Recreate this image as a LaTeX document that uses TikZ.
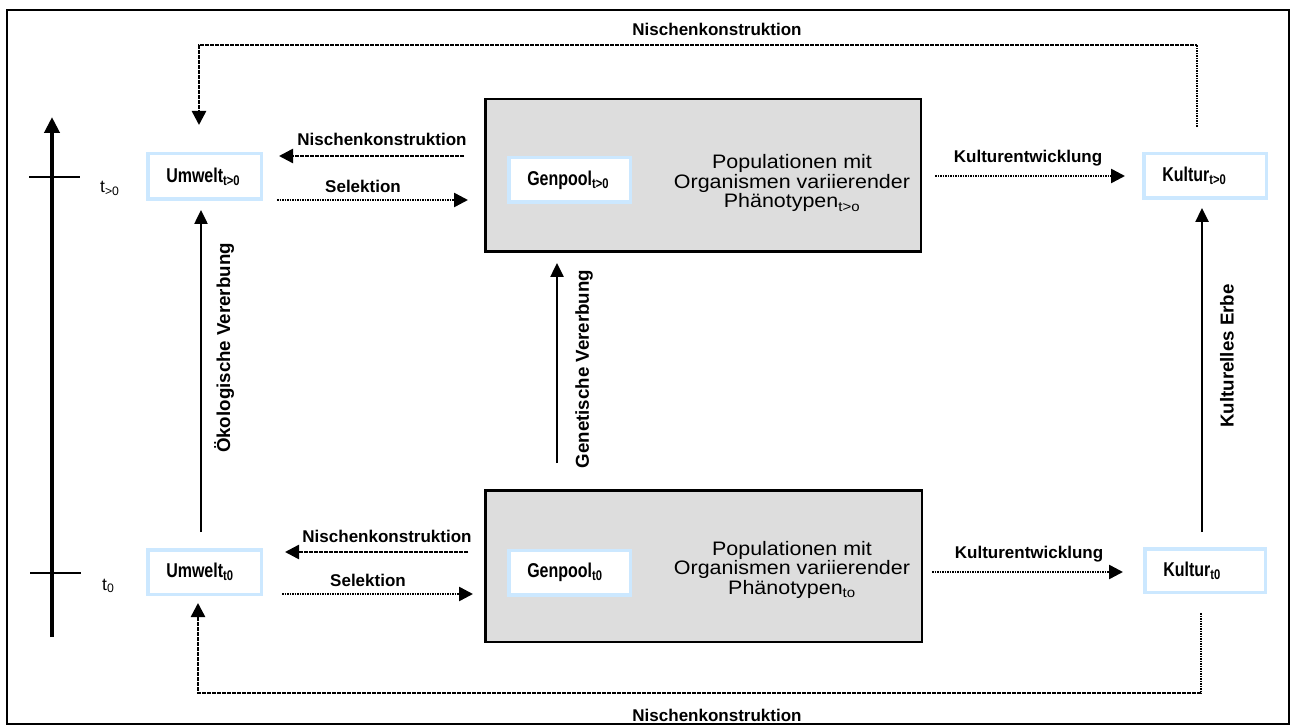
\documentclass[tikz,border=0pt]{standalone}
\usepackage{fontspec}
\setmainfont{Liberation Sans}
\newfontfamily\narrowfont[FakeStretch=0.8]{Liberation Sans}
\newfontfamily\widefont[FakeStretch=1.1]{Liberation Sans}
\usetikzlibrary{arrows.meta}
\definecolor{tagblue}{RGB}{204,232,255}
\definecolor{popgray}{RGB}{221,221,221}
\begin{document}
\begin{tikzpicture}[x=1pt,y=-1pt,
  frame/.style={draw=black,line width=2pt},
  popbox/.style={draw=black,line width=2.5pt,fill=popgray,inner sep=0pt},
  tagbox/.style={draw=tagblue,line width=3.5pt,fill=white,inner ysep=0pt,
    inner xsep=18.5pt,align=left,
    font=\narrowfont\bfseries\fontsize{20}{21}\selectfont},
  poptext/.style={inner sep=0pt,align=center,anchor=base,
    font=\widefont\fontsize{19.5}{19.5}\selectfont},
  lbl/.style={inner sep=0pt,anchor=base,font=\bfseries\fontsize{17}{20}\selectfont},
  vlbl/.style={inner sep=0pt,rotate=90,font=\bfseries\fontsize{18.7}{20}\selectfont},
  timelbl/.style={inner sep=0pt,anchor=base west,font=\fontsize{17.5}{20}\selectfont},
  flow/.style={line width=2.5pt,dash pattern=on 1.6pt off 0.9pt,
    -{Triangle[length=14pt,width=14pt]}},
  inherit/.style={line width=2.5pt,-{Triangle[length=14pt,width=13pt]}},
  axis/.style={line width=4pt,-{Triangle[length=16pt,width=15pt]}},
  tick/.style={line width=1.5pt}]
\useasboundingbox (0,0) rectangle (1295,727);

% outer frame
\draw[frame] (7,10) rectangle (1289,724);

% population boxes
\node[popbox,minimum width=435.5pt,minimum height=152.5pt] (popU) at (703,175.5) {};
\node[popbox,minimum width=436.5pt,minimum height=151.5pt] (popL) at (703.5,566) {};
\node[poptext] (popTxtU) at (792,208)
  {Populationen mit\\Organismen variierender\\Phänotypen\textsubscript{t>o}};
\node[poptext] (popTxtL) at (792,594)
  {Populationen mit\\Organismen variierender\\Phänotypen\textsubscript{to}};

% labelled boxes
\node[tagbox,text width=76.5pt,minimum height=45.5pt] (umU) at (204.5,176.5) {Umwelt\textsubscript{t>0}};
\node[tagbox,text width=76.5pt,minimum height=44.5pt] (umL) at (204.5,572) {Umwelt\textsubscript{t0}};
\node[tagbox,text width=84.5pt,minimum height=44.5pt] (gpU) at (569.5,180) {Genpool\textsubscript{t>0}};
\node[tagbox,text width=84.5pt,minimum height=44.5pt] (gpL) at (569.5,572.5) {Genpool\textsubscript{t0}};
\node[tagbox,text width=85.5pt,minimum height=44.5pt] (kuU) at (1205,176) {Kultur\textsubscript{t>0}};
\node[tagbox,text width=83.5pt,minimum height=43.5pt] (kuL) at (1205,570.5) {Kultur\textsubscript{t0}};

% time axis
\coordinate (axB) at (52,637);
\coordinate (axT) at (52,117);
\draw[axis] (axB) -- (axT);
\coordinate (tkUa) at (29,177); \coordinate (tkUb) at (80,177);
\coordinate (tkLa) at (30,573); \coordinate (tkLb) at (81,573);
\draw[tick] (tkUa) -- (tkUb);
\draw[tick] (tkLa) -- (tkLb);
\node[timelbl] (tU) at (100,193) {t\textsubscript{>0}};
\node[timelbl] (tL) at (102,590) {t\textsubscript{0}};

% niche construction round the outside
\coordinate (ncTs) at (1197,127);
\coordinate (ncTe) at (199,125);
\draw[flow] (ncTs) |- (599,45) -| (ncTe);
\node[lbl] (ncTl) at (717,36) {Nischenkonstruktion};

\coordinate (ncBs) at (1201,613);
\coordinate (ncBe) at (198,603);
\draw[flow] (ncBs) |- (599,693) -| (ncBe);
\node[lbl] (ncBl) at (717,721) {Nischenkonstruktion};

% exchanges between environment and population (t > 0)
\coordinate (ncUs) at (464,156); \coordinate (ncUe) at (279,156);
\draw[flow] (ncUs) -- (ncUe);
\node[lbl] (ncUl) at (382,146) {Nischenkonstruktion};
\coordinate (slUs) at (277,200); \coordinate (slUe) at (468,200);
\draw[flow] (slUs) -- (slUe);
\node[lbl] (slUl) at (363,193) {Selektion};

% exchanges between environment and population (t0)
\coordinate (ncLs) at (468,552); \coordinate (ncLe) at (285,552);
\draw[flow] (ncLs) -- (ncLe);
\node[lbl] (ncLl) at (387,542) {Nischenkonstruktion};
\coordinate (slLs) at (282,594); \coordinate (slLe) at (473,594);
\draw[flow] (slLs) -- (slLe);
\node[lbl] (slLl) at (368,586) {Selektion};

% cultural development
\coordinate (keUs) at (935,176); \coordinate (keUe) at (1125,176);
\draw[flow] (keUs) -- (keUe);
\node[lbl] (keUl) at (1028,163) {Kulturentwicklung};
\coordinate (keLs) at (932,572); \coordinate (keLe) at (1123,572);
\draw[flow] (keLs) -- (keLe);
\node[lbl] (keLl) at (1029,558) {Kulturentwicklung};

% inheritance lines
\coordinate (oeS) at (201,532); \coordinate (oeE) at (201,210);
\draw[inherit] (oeS) -- (oeE);
\node[vlbl] (oeL) at (224,348) {Ökologische Vererbung};
\coordinate (geS) at (557,463); \coordinate (geE) at (557,263);
\draw[inherit] (geS) -- (geE);
\node[vlbl] (geL) at (584,369) {Genetische Vererbung};
\coordinate (kuS) at (1202,532); \coordinate (kuE) at (1202,208);
\draw[inherit] (kuS) -- (kuE);
\node[vlbl] (kuLb) at (1227,356) {Kulturelles Erbe};
\end{tikzpicture}
\end{document}
